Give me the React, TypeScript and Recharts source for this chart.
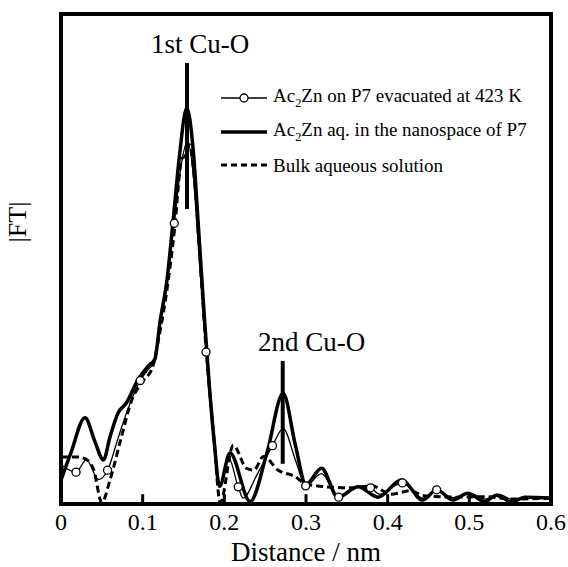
import {
  ComposedChart,
  Line,
  ReferenceArea,
  ReferenceLine,
  XAxis,
  YAxis,
} from "recharts";

const SERIF = '"Liberation Serif", "Times New Roman", serif';

// Ac2Zn on P7 evacuated at 423 K (thin line, open circles)
const DIST_EVAC = [
  0, 0.0184, 0.031, 0.046, 0.057, 0.07, 0.08, 0.097, 0.107, 0.115, 0.121, 0.13,
  0.1387, 0.147, 0.155, 0.162, 0.168, 0.1776, 0.186, 0.195, 0.205, 0.217,
  0.223, 0.24, 0.259, 0.272, 0.287, 0.2996, 0.319, 0.34, 0.364, 0.379, 0.39,
  0.418, 0.443, 0.46, 0.48, 0.5, 0.52, 0.535, 0.555, 0.57, 0.6,
];
const FT_EVAC = [
  8, 6.5, 9, 5, 6.9, 13.5, 18.5, 25.2, 27.5, 29, 36, 46, 57.3, 69, 74, 67, 53,
  31, 15, 4, 9.5, 3.5, 1.2, 6, 11.9, 15.4, 9, 3.7, 6.2, 1.4, 3.6, 3.3, 2.0, 4.3,
  1.2, 2.9, 1.3, 2.2, 1.0, 2.0, 0.8, 1.3, 1.0,
];
const MARKS_EVAC = [
  0.0184, 0.057, 0.097, 0.1387, 0.1776, 0.217, 0.259, 0.2996, 0.34, 0.379,
  0.418, 0.46,
];

// Ac2Zn aq. in the nanospace of P7 (thick line)
const DIST_NANO = [
  0, 0.012, 0.0294, 0.0416, 0.052, 0.06, 0.07, 0.08, 0.094, 0.107, 0.115,
  0.121, 0.13, 0.137, 0.145, 0.154, 0.162, 0.168, 0.176, 0.182, 0.188, 0.194,
  0.207, 0.2315, 0.252, 0.272, 0.287, 0.3, 0.319, 0.339, 0.364, 0.388, 0.417,
  0.443, 0.46, 0.48, 0.498, 0.519, 0.533, 0.552, 0.568, 0.6,
];
const FT_NANO = [
  4.9, 10.4, 17.6, 12.7, 9.0, 13.7, 18.6, 20.6, 25.3, 28.2, 29.6, 36.9, 46,
  57.3, 71, 80.8, 72, 57.3, 37, 23.3, 12, 3.6, 10.4, 0.5, 10.3, 22.6, 12, 4.0,
  7.3, 1.4, 3.5, 1.4, 4.9, 0.8, 2.9, 0.8, 2.2, 0.5, 1.8, 0.4, 1.4, 1.2,
];

// Bulk aqueous solution (dashed)
const DIST_BULK = [
  0, 0.02, 0.03, 0.04, 0.05, 0.06, 0.074, 0.0866, 0.1, 0.112, 0.121, 0.13,
  0.139, 0.148, 0.152, 0.157, 0.163, 0.169, 0.178, 0.187, 0.195, 0.211, 0.227,
  0.236, 0.248, 0.266, 0.2865, 0.3, 0.334, 0.355, 0.381, 0.404, 0.428, 0.444,
  0.485, 0.52, 0.55, 0.6,
];
const FT_BULK = [
  9.6, 9.6, 9.2, 7, 0.3, 4.9, 13.7, 21.2, 25, 27.9, 35, 44, 56, 70.5, 71, 73.3,
  67, 53, 31, 14, 0.3, 12, 7.3, 6.9, 9.7, 6.9, 5.6, 4.1, 3.4, 3.3, 3.7, 2.0,
  2.7, 1.7, 1.4, 1.5, 1.0, 1.2,
];

const X_TICKS = [0, 0.1, 0.2, 0.3, 0.4, 0.5, 0.6];
const INNER_TICKS = [0.1, 0.2, 0.3, 0.4, 0.5];

const PEAK_NAMES = ["1st Cu-O", "2nd Cu-O"];
const PEAK_R = [0.1543, 0.2715];
const PEAK_LOW = [60.2, 8.2];
const PEAK_HIGH = [90, 29.2];
const PEAK_SHIFT = [13, 29];

const evac = DIST_EVAC.map((x, i) => ({ x, y: FT_EVAC[i] }));
const nano = DIST_NANO.map((x, i) => ({ x, y: FT_NANO[i] }));
const bulk = DIST_BULK.map((x, i) => ({ x, y: FT_BULK[i] }));

const renderMark = (props: any) => {
  const { cx, cy, payload, index } = props;
  if (!MARKS_EVAC.includes(payload.x)) return <g key={`m-${index}`} />;
  return (
    <circle
      key={`m-${index}`}
      cx={cx}
      cy={cy}
      r={4}
      fill="#fff"
      stroke="#000"
      strokeWidth={1.3}
    />
  );
};

const LegendBox = () => {
  const rows = [
    {
      sample: (
        <svg width={48} height={12}>
          <line x1={0} y1={6} x2={46} y2={6} stroke="#000" strokeWidth={1.5} />
          <circle cx={23} cy={6} r={4} fill="#fff" stroke="#000" strokeWidth={1.3} />
        </svg>
      ),
      label: (
        <>
          Ac<sub style={{ fontSize: "0.65em" }}>2</sub>Zn on P7 evacuated at 423 K
        </>
      ),
    },
    {
      sample: (
        <svg width={48} height={12}>
          <line x1={0} y1={6} x2={46} y2={6} stroke="#000" strokeWidth={3.5} />
        </svg>
      ),
      label: (
        <>
          Ac<sub style={{ fontSize: "0.65em" }}>2</sub>Zn aq. in the nanospace of P7
        </>
      ),
    },
    {
      sample: (
        <svg width={48} height={12}>
          <line
            x1={0}
            y1={6}
            x2={46}
            y2={6}
            stroke="#000"
            strokeWidth={3}
            strokeDasharray="6 4"
          />
        </svg>
      ),
      label: <>Bulk aqueous solution</>,
    },
  ];
  return (
    <div
      style={{
        position: "absolute",
        left: 221,
        top: 81,
        fontFamily: SERIF,
        fontSize: 19,
        color: "#000",
      }}
    >
      {rows.map((r, i) => (
        <div
          key={i}
          style={{
            display: "flex",
            alignItems: "center",
            height: 33.8,
            whiteSpace: "nowrap",
          }}
        >
          {r.sample}
          <span style={{ marginLeft: 4, lineHeight: 1 }}>{r.label}</span>
        </div>
      ))}
    </div>
  );
};

export default function App() {
  return (
    <div
      style={{
        position: "absolute",
        left: 0,
        top: 0,
        width: 568,
        height: 567,
        background: "#fff",
      }}
    >
      <ComposedChart
        width={568}
        height={567}
        margin={{ top: 14, right: 17, bottom: 0, left: 0 }}
      >
        <XAxis
          type="number"
          dataKey="x"
          domain={[0, 0.6]}
          ticks={X_TICKS}
          tickFormatter={(v: number) => String(v)}
          allowDataOverflow
          axisLine={false}
          tickLine={false}
          tickSize={0}
          tickMargin={9}
          height={63}
          tick={{ fontFamily: SERIF, fontSize: 24, fill: "#000" }}
          label={{
            value: "Distance / nm",
            position: "insideBottom",
            offset: 6,
            style: { fontFamily: SERIF, fontSize: 27, fill: "#000" },
          }}
        />
        <YAxis
          type="number"
          domain={[0, 100]}
          allowDataOverflow
          width={61}
          tick={false}
          tickLine={false}
          axisLine={false}
          label={{
            content: () => (
              <text
                x={17}
                y={222}
                transform="rotate(-90 17 222)"
                textAnchor="middle"
                dominantBaseline="central"
                fontFamily={SERIF}
                fontSize={26}
                fill="#000"
              >
                |FT|
              </text>
            ),
          }}
        />
        {INNER_TICKS.map((t) => (
          <ReferenceLine
            key={`t-${t}`}
            segment={[
              { x: t, y: 0 },
              { x: t, y: 2 },
            ]}
            stroke="#000"
            strokeWidth={3}
          />
        ))}
        <Line
          data={bulk}
          dataKey="y"
          type="monotone"
          stroke="#000"
          strokeWidth={3}
          strokeDasharray="7 4"
          dot={false}
          activeDot={false}
          isAnimationActive={false}
        />
        <Line
          data={nano}
          dataKey="y"
          type="monotone"
          stroke="#000"
          strokeWidth={3.5}
          dot={false}
          activeDot={false}
          isAnimationActive={false}
        />
        <Line
          data={evac}
          dataKey="y"
          type="monotone"
          stroke="#000"
          strokeWidth={1.3}
          dot={renderMark}
          activeDot={false}
          isAnimationActive={false}
        />
        {PEAK_NAMES.map((name, i) => (
          <ReferenceLine
            key={name}
            segment={[
              { x: PEAK_R[i], y: PEAK_LOW[i] },
              { x: PEAK_R[i], y: PEAK_HIGH[i] },
            ]}
            stroke="#000"
            strokeWidth={4}
            label={{
              value: name,
              position: "top",
              offset: 10,
              dx: PEAK_SHIFT[i],
              style: { fontFamily: SERIF, fontSize: 27, fill: "#000" },
            }}
          />
        ))}
        <ReferenceArea
          x1={0}
          x2={0.6}
          y1={0}
          y2={100}
          fill="none"
          stroke="#000"
          strokeWidth={4}
          ifOverflow="visible"
        />
      </ComposedChart>
      <LegendBox />
    </div>
  );
}
